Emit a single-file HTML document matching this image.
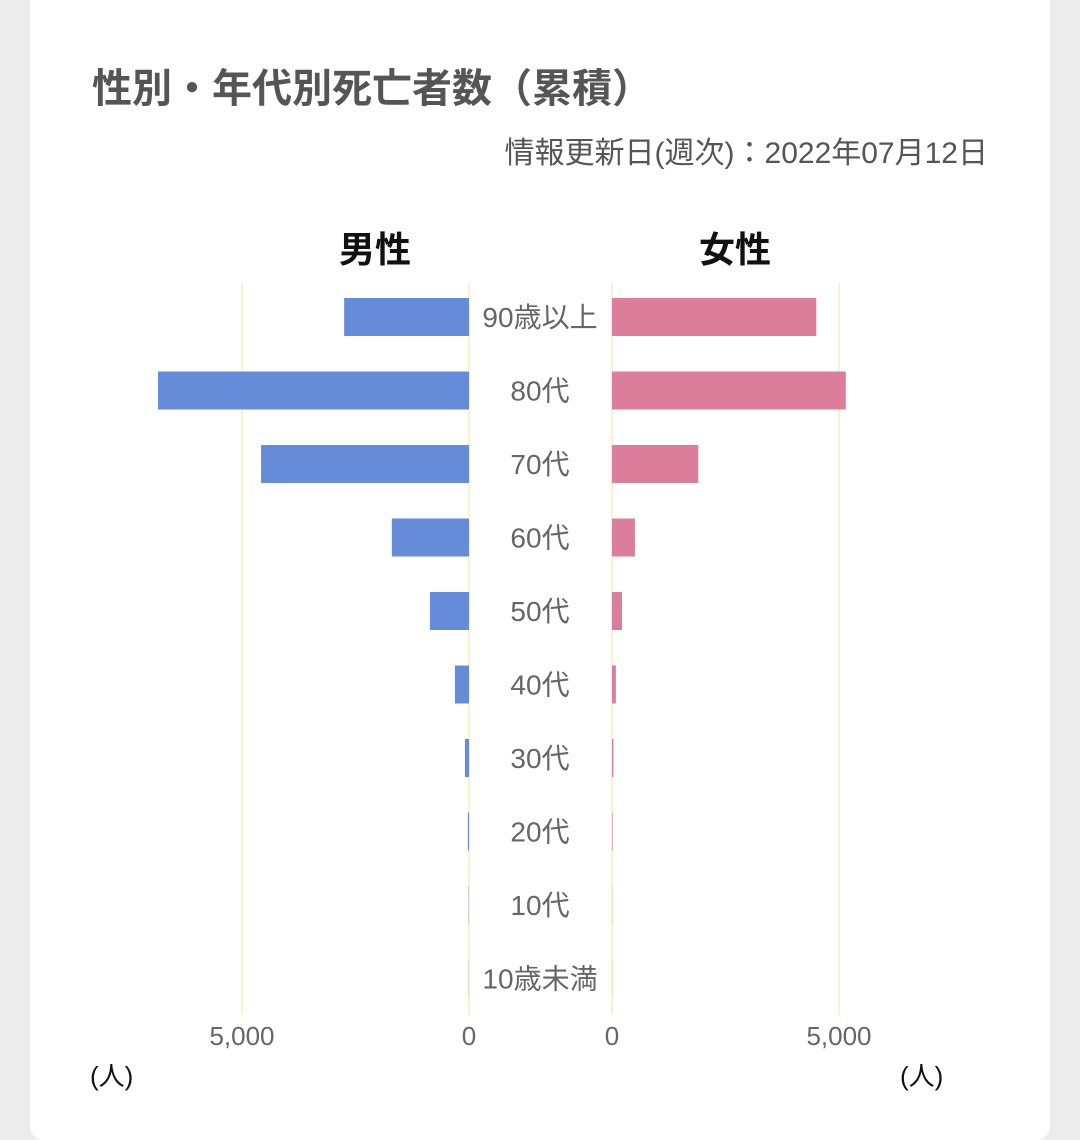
<!DOCTYPE html>
<html><head><meta charset="utf-8">
<style>
body{margin:0;width:1080px;height:1111px;background:#ececec;overflow:hidden;font-family:"Liberation Sans","Noto Sans CJK JP",sans-serif;}
#card{position:absolute;left:30px;top:-20px;width:1020px;height:1160px;background:#fff;border-radius:14px;}
#title{position:absolute;left:92px;top:56px;font-size:40px;font-weight:bold;color:#555;margin:0;}
#sub{position:absolute;right:92px;top:128px;font-size:30px;color:#555;}
svg{position:absolute;left:0;top:0;}
</style></head><body>
<div id="card"></div>
<h1 id="title">性別・年代別死亡者数（累積）</h1>
<div id="sub">情報更新日(週次)：2022年07月12日</div>
<svg id="chart" width="1080" height="1111"></svg>
<script>
const categories=["90歳以上","80代","70代","60代","50代","40代","30代","20代","10代","10歳未満"];
const maleValues=[2750,6850,4580,1700,860,310,90,25,6,4];
const femaleValues=[4500,5150,1900,505,220,85,30,12,4,3];
const tickValues=[5000,0];
const tickLabels=["5,000","0"];
const svg=document.getElementById('chart');
const NS='http://www.w3.org/2000/svg';
const mx0=469,fx0=612,scale=227/5000;
const xm=v=>mx0-v*scale, xf=v=>fx0+v*scale;
const yc=i=>317+i*73.5;
function mk(t,a){const e=document.createElementNS(NS,t);for(const k in a)e.setAttribute(k,a[k]);svg.appendChild(e);return e;}
tickValues.forEach((v,i)=>{
 let g=mk('line',{x1:xm(v),x2:xm(v),y1:283,y2:1015,stroke:'#f8f3c8','stroke-width':2});
 
 g=mk('line',{x1:xf(v),x2:xf(v),y1:283,y2:1015,stroke:'#f8f3c8','stroke-width':2});
 
 let t=mk('text',{x:xm(v),y:1045,'text-anchor':'middle','font-size':26,fill:'#666'});t.textContent=tickLabels[i];
 
 t=mk('text',{x:xf(v),y:1045,'text-anchor':'middle','font-size':26,fill:'#666'});t.textContent=tickLabels[i];
 
});
categories.forEach((c,i)=>{
 const y=yc(i);
 let r=mk('rect',{x:xm(maleValues[i]),y:y-19,width:maleValues[i]*scale,height:38,fill:'#668cd9'});
 
 r=mk('rect',{x:fx0,y:y-19,width:femaleValues[i]*scale,height:38,fill:'#db7d9b'});
 
 const t=mk('text',{x:540,y:y+10,'text-anchor':'middle','font-size':28,fill:'#666'});t.textContent=c;
 
});
let h=mk('text',{x:375,y:262,'text-anchor':'middle','font-size':36,'font-weight':'bold',fill:'#111'});h.textContent='男性';

h=mk('text',{x:735,y:262,'text-anchor':'middle','font-size':36,'font-weight':'bold',fill:'#111'});h.textContent='女性';

h=mk('text',{x:90,y:1085,'font-size':26,fill:'#111'});h.textContent='(人)';

h=mk('text',{x:900,y:1085,'font-size':26,fill:'#111'});h.textContent='(人)';

</script>
</body></html>
